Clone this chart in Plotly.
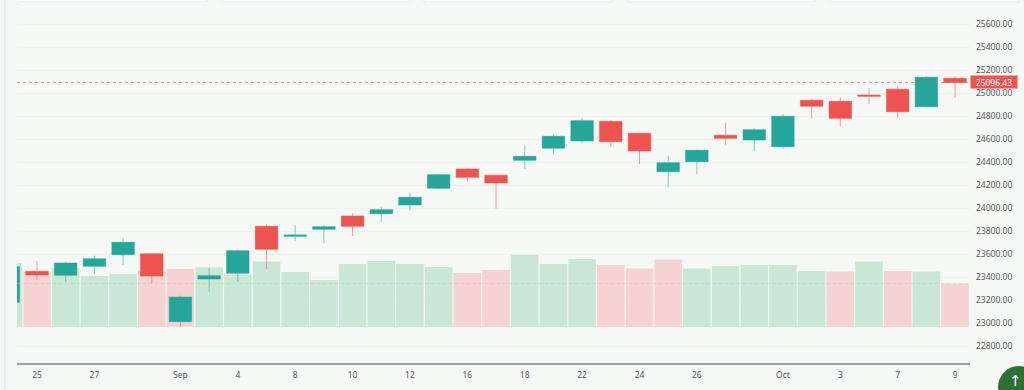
import plotly.graph_objects as go

# Session index (-1 is the candle clipped on the left edge)
sessions = list(range(-1, 33))
tick_positions = [0, 2, 5, 7, 9, 11, 13, 15, 17, 19, 21, 23, 26, 28, 30, 32]
tick_labels = ["25", "27", "Sep", "4", "8", "10", "12", "16", "18", "22", "24", "26", "Oct", "3", "7", "9"]

opens = [23184, 23454, 23419, 23497, 23598, 23607, 23016, 23387, 23437, 23845, 23758, 23819,
         23935, 23955, 24030, 24176, 24344, 24289, 24419, 24524, 24587, 24758, 24654, 24320,
         24407, 24637, 24596, 24537, 24941, 24932, 24987, 25037, 24885, 25132]
highs = [23500, 23546, 23535, 23590, 23744, 23610, 23242, 23480, 23642, 23863, 23857, 23857,
         23958, 24016, 24137, 24300, 24350, 24294, 24552, 24645, 24784, 24767, 24654, 24459,
         24511, 24746, 24697, 24822, 24952, 24964, 25048, 25068, 25152, 25144]
lows = [23170, 23378, 23363, 23430, 23509, 23350, 22970, 23274, 23363, 23474, 23720, 23697,
        23761, 23883, 23981, 24170, 24239, 23998, 24344, 24468, 24572, 24535, 24387, 24184,
        24297, 24555, 24500, 24520, 24781, 24711, 24909, 24784, 24880, 24964]
closes = [23494, 23422, 23526, 23563, 23706, 23413, 23230, 23416, 23633, 23645, 23770, 23842,
          23845, 23990, 24097, 24294, 24271, 24222, 24454, 24628, 24764, 24581, 24500, 24398,
          24506, 24610, 24685, 24802, 24889, 24784, 24976, 24842, 25141, 25096.43]
volumes = [64, 55, 59, 51, 53, 56, 58, 59.7, 52, 65.5, 55, 47,
           63, 66, 63, 60, 54, 57, 72, 63, 68, 62, 58.5, 67.5,
           58.5, 61, 62, 62, 56, 55.5, 65.5, 56, 55.5, 43.5]
volume_side = ["u", "d", "u", "u", "u", "d", "d", "u", "u", "u", "u", "u",
               "u", "u", "u", "u", "d", "d", "u", "u", "u", "d", "d", "d",
               "u", "u", "u", "u", "u", "d", "u", "d", "u", "d"]
price_ticks = list(range(22800, 25601, 200))

UP, DOWN = "#26a69a", "#ef5350"
BG = "#f5f8f5"
VOL_UP, VOL_DOWN = "#c9e7d5", "#f6d3d3"
TEXT = "#55595e"
W, H = 1024, 390
L, R, T, B = 17, 970, 0, 363


def px(x):
    return (x - L) / (R - L)


def py(y):
    return 1 - (y - T) / (B - T)


fig = go.Figure()
fig.add_trace(go.Bar(
    x=sessions, y=volumes, yaxis="y", xaxis="x",
    marker=dict(color=[VOL_UP if s == "u" else VOL_DOWN for s in volume_side], line=dict(width=0)),
    showlegend=False,
))
fig.add_trace(go.Candlestick(
    x=sessions, open=opens, high=highs, low=lows, close=closes, yaxis="y2", xaxis="x",
    increasing=dict(fillcolor=UP, line=dict(color="rgba(38,166,154,0.55)", width=1)),
    decreasing=dict(fillcolor=DOWN, line=dict(color="rgba(239,83,80,0.55)", width=1)),
    whiskerwidth=0, showlegend=False,
))

shapes = [
    # last-price and last-volume dotted lines
    dict(type="line", xref="x domain", yref="y2", x0=0, x1=1, y0=closes[-1], y1=closes[-1],
         line=dict(color="rgba(239,83,80,0.65)", width=1, dash="dot"), layer="above"),
    dict(type="line", xref="x domain", yref="y", x0=0, x1=1, y0=volumes[-1], y1=volumes[-1],
         line=dict(color="rgba(200,190,170,0.4)", width=1, dash="dot"), layer="above"),
    # page furniture
    dict(type="rect", xref="paper", yref="paper", x0=px(4), x1=px(6), y0=py(400), y1=py(-10),
         fillcolor="#e9edf0", line=dict(width=0), layer="below"),
    dict(type="circle", xref="paper", yref="paper", x0=px(998), x1=px(1040), y0=py(408), y1=py(366),
         fillcolor="#2e7032", line=dict(width=0), layer="above"),
]
for x0, x1 in [(18, 207), (222, 410), (424, 612), (628, 815), (830, 1019)]:
    shapes.append(dict(type="rect", xref="paper", yref="paper", x0=px(x0), x1=px(x1), y0=py(2), y1=py(-6),
                       fillcolor="#ffffff", line=dict(color="#e6eaec", width=1), layer="below"))

fig.update_layout(
    width=W, height=H, margin=dict(l=L, r=W - R, t=T, b=H - B),
    autosize=False,
    paper_bgcolor=BG, plot_bgcolor=BG,
    font=dict(family="Noto Sans", size=8.5, color=TEXT),
    bargap=0.04, boxgap=0.1, boxgroupgap=0.13,
    showlegend=False,
    xaxis=dict(
        range=[-0.697, 32.52], rangeslider=dict(visible=False),
        tickmode="array", tickvals=tick_positions, ticktext=tick_labels,
        showgrid=False, zeroline=False, showline=True, linecolor="#9a9ea6", linewidth=1.5,
        ticks="", tickfont=dict(size=8.5, color=TEXT), anchor="y2", ticklabelstandoff=3,
    ),
    yaxis=dict(range=[-36, 327], visible=False, showgrid=False, zeroline=False, fixedrange=True),
    yaxis2=dict(
        range=[22656.5, 25813], overlaying="y", side="right", anchor="x",
        tickmode="array", tickvals=price_ticks, tickformat=".2f",
        showgrid=True, gridcolor="rgba(225,232,228,0.35)", gridwidth=1, zeroline=False,
        showline=False, ticks="", tickfont=dict(size=8.5, color=TEXT), ticklabelstandoff=5,
    ),
    shapes=shapes,
    annotations=[
        dict(xref="paper", yref="y2", x=px(970.5), y=closes[-1], xanchor="left", yanchor="middle",
             text=f"{closes[-1]:.2f}", showarrow=False, bgcolor=DOWN, borderpad=0,
             font=dict(size=8.5, color="#ffffff", family="Noto Sans"), width=46, height=12, align="center"),
        dict(xref="paper", yref="paper", x=px(1015), y=py(381), xanchor="center", yanchor="middle",
             text="↑", showarrow=False, font=dict(size=15, color="#ffffff", family="DejaVu Sans")),
    ],
)
fig.write_html(
    "out.html",
    config=dict(displayModeBar=False),
    post_script="document.body.style.margin='0';document.body.style.overflow='hidden';document.documentElement.style.overflow='hidden';document.documentElement.style.background='%s';" % BG,
)
